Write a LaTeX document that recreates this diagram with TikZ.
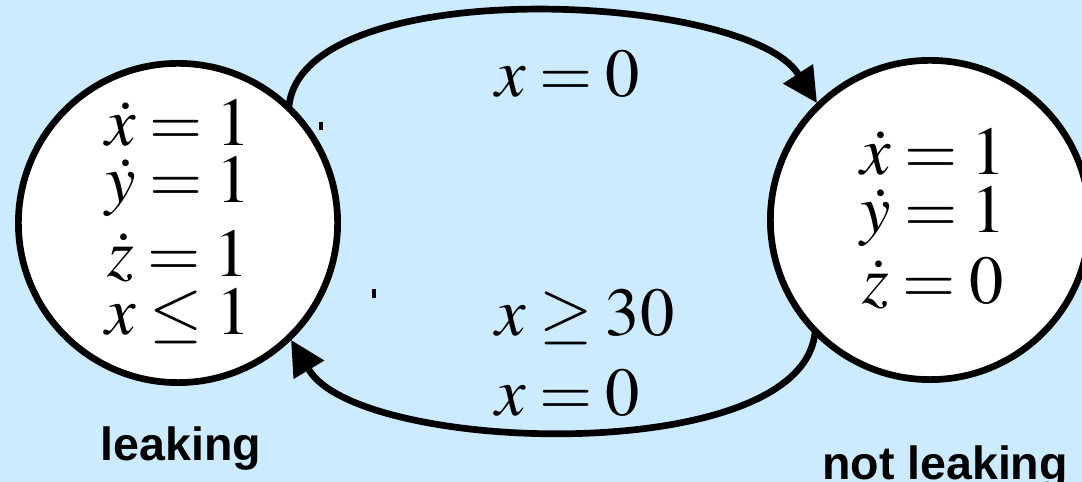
\documentclass[tikz,border=0pt]{standalone}
\usepackage{mathptmx}
\usepackage{fontspec}
\setmainfont{Liberation Serif}
\setsansfont{Liberation Sans}
\usetikzlibrary{arrows.meta}
\definecolor{skyback}{RGB}{204,235,255}
\newcommand{\eqfont}{\fontsize{39}{47}\selectfont\thickmuskip=3.5mu\relax}

\begin{document}
\begin{tikzpicture}[x=0.02cm, y=0.02cm,
  loc/.style={circle, draw, line width=0.134cm, fill=white, minimum size=6.386cm, inner sep=0pt},
  eqn/.style={anchor=base, inner sep=0pt, font=\eqfont},
  guard/.style={anchor=base west, inner sep=0pt, font=\eqfont},
  locname/.style={anchor=base, inner sep=0pt, font=\fontsize{26.5}{30}\selectfont\sffamily\bfseries},
  trans/.style={line width=0.134cm, shorten <=-0.07cm,
    -{Triangle[length=0.69cm, width=0.72cm, line width=0pt]}}]
  % Background
  \fill[skyback] (0,0) rectangle (1082,482);
  \useasboundingbox (0,0) rectangle (1082,482);
  % Locations
  \node[loc] (leak) at (178,259) {};
  \node[loc] (noleak) at (930,262) {};
  % Transitions
  \draw[trans] (leak.47) to[out=85, in=123, looseness=0.64] (noleak.134);
  \draw[trans] (noleak.225) to[out=265, in=301, looseness=0.65] (leak.314);
  % Flows in leaking
  \node[eqn] (lx) at (178,336) {$\dot{x}=1$};
  \node[eqn] (ly) at (178,279) {$\dot{y}=1$};
  \node[eqn] (lz) at (178,205) {$\dot{z}=1$};
  \node[eqn] (linv) at (178,147) {$x\le 1$};
  % Flows in not leaking
  \node[eqn] (nx) at (933,307) {$\dot{x}=1$};
  \node[eqn] (ny) at (933,249) {$\dot{y}=1$};
  \node[eqn] (nz) at (933,178) {$\dot{z}=0$};
  % Guards and resets
  \node[guard] (resetA) at (495,385) {$x=0$};
  \node[guard] (guardB) at (495,146) {$x\ge 30$};
  \node[guard] (resetB) at (495,66) {$x=0$};
  % Names
  \node[locname] (leakname) at (181,21) {leaking};
  \node[locname] (noleakname) at (945,2) {not leaking};
  % Stray ticks
  \fill (319,352.3) rectangle (322.7,360.3);
  \fill (372.3,184.3) rectangle (376,193);
\end{tikzpicture}
\end{document}
